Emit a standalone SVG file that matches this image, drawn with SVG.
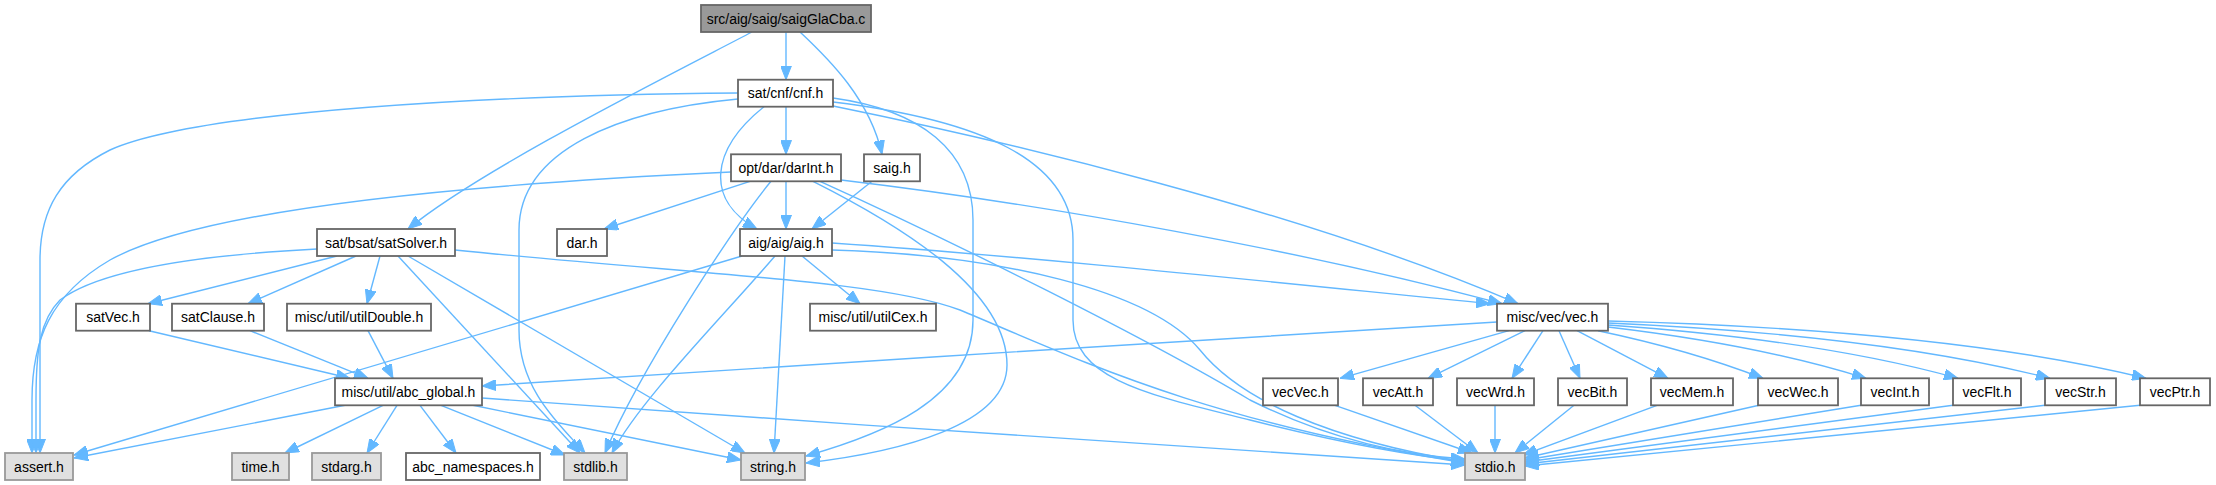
<svg xmlns="http://www.w3.org/2000/svg" width="2216" height="485" viewBox="0 0 2216 485">
<defs>
<style>
.n rect{fill:#ffffff;stroke:#666666;stroke-width:1.8}
.n.top rect{fill:#999999;stroke:#666666}
.n.sys rect{fill:#e0e0e0;stroke:#999999}
.n text{font-family:"Liberation Sans",Arial,sans-serif;font-size:14px;fill:#000000;text-anchor:middle}
#edges path{fill:none;stroke:#63b8ff;stroke-width:1.4;marker-end:url(#arr)}
</style>
<marker id="arr" markerUnits="userSpaceOnUse" viewBox="0 0 14 11" refX="14" refY="5.5" markerWidth="14" markerHeight="11" orient="auto">
<path d="M0,0 L14,5.5 L0,11 z" fill="#63b8ff" stroke="#63b8ff" stroke-width="1"/>
</marker>
</defs>
<rect width="2216" height="485" fill="#ffffff"/>
<g id="edges">
<path d="M752,32 C660,80 480,170 408,229"/>
<path d="M786,32 L786,79.7"/>
<path d="M800,32 C830,60 870,100 882,154.3"/>
<path d="M738,93 C500,95 200,110 110,150 C60,175 40,210 40,260 L40,453"/>
<path d="M738,99 C620,110 519,150 519,230 L519,330 C519,390 560,425 585,453"/>
<path d="M786,106.7 L786,154.3"/>
<path d="M764,106.7 C710,150 705,200 757,229"/>
<path d="M833,98 C920,110 973,150 973,220 L973,320 C973,400 880,435 806,456"/>
<path d="M833,102 C980,120 1073,160 1073,240 L1073,320 C1073,380 1150,395 1250,420 C1330,440 1400,455 1465,461"/>
<path d="M833,106 C1000,140 1300,210 1518,303.7"/>
<path d="M872,181.3 L812,229"/>
<path d="M731,172 C450,185 200,210 110,260 C50,295 32,340 32,400 L32,453"/>
<path d="M750,181.3 L604,229"/>
<path d="M786,181.3 L786,229"/>
<path d="M771,181.3 C735,225 640,370 605,453"/>
<path d="M813,181.3 C900,225 1007,290 1007,365 C1007,425 900,452 806,463"/>
<path d="M820,181.3 C950,240 1150,340 1250,400 C1330,440 1400,455 1465,459"/>
<path d="M841,180 C1050,205 1300,250 1502,303.7"/>
<path d="M317,249 C200,255 100,270 60,300 C40,320 36,350 36,400 L36,453"/>
<path d="M337,256 L148,303.7"/>
<path d="M356,256 L248,303.7"/>
<path d="M380,256 L367,303.7"/>
<path d="M398,256 L580,453"/>
<path d="M408,256 L745,453"/>
<path d="M455,250 C700,275 880,280 960,310 C1080,360 1200,420 1465,463"/>
<path d="M742,256 L74,455"/>
<path d="M775,256 C720,320 640,400 612,453"/>
<path d="M785,256 L774,453"/>
<path d="M802,256 L860,303.7"/>
<path d="M832,250 C1000,255 1150,290 1200,350 C1240,400 1330,440 1465,462"/>
<path d="M832,243 C1050,258 1300,285 1490,303.7"/>
<path d="M149,330.7 L350,378.3"/>
<path d="M250,330.7 L368,378.3"/>
<path d="M368,330.7 L393,378.3"/>
<path d="M1497,322 C1200,340 800,365 482,386"/>
<path d="M1509,330.7 L1340,378.3"/>
<path d="M1525,330.7 L1428,378.3"/>
<path d="M1543,330.7 L1512,378.3"/>
<path d="M1559,330.7 L1580,378.3"/>
<path d="M1577,330.7 L1668,378.3"/>
<path d="M1598,330.7 Q1690,350 1763,378.3"/>
<path d="M1608,327 Q1760,345 1866,378.3"/>
<path d="M1608,325 Q1820,340 1958,378.3"/>
<path d="M1608,323 Q1880,335 2050,378.3"/>
<path d="M1608,321 Q1950,330 2146,378.3"/>
<path d="M345,405.3 L74,458"/>
<path d="M383,405.3 L285,453"/>
<path d="M397,405.3 L367,453"/>
<path d="M420,405.3 L456,453"/>
<path d="M441,405.3 L565,455"/>
<path d="M473,405.3 L741,460"/>
<path d="M482,398 C800,420 1200,450 1465,465"/>
<path d="M1335,405.3 L1472,453"/>
<path d="M1415,405.3 L1478,453"/>
<path d="M1495,405.3 L1495,453"/>
<path d="M1574,405.3 L1515,453"/>
<path d="M1657,405.3 L1523,455"/>
<path d="M1759,405.3 L1525,458"/>
<path d="M1861,405.3 L1525,460"/>
<path d="M1953,405.3 L1525,462"/>
<path d="M2045,405.3 L1525,464"/>
<path d="M2140,405.3 L1525,466"/>
</g>
<g id="node_top" class="n top"><rect x="701" y="5" width="170" height="27"/><text x="786" y="23.5">src/aig/saig/saigGlaCba.c</text></g>
<g id="node_cnf" class="n"><rect x="738" y="79.7" width="95" height="27"/><text x="785.5" y="98.2">sat/cnf/cnf.h</text></g>
<g id="node_darInt" class="n"><rect x="731" y="154.3" width="110" height="27"/><text x="786" y="172.8">opt/dar/darInt.h</text></g>
<g id="node_saig" class="n"><rect x="864" y="154.3" width="56" height="27"/><text x="892" y="172.8">saig.h</text></g>
<g id="node_satSolver" class="n"><rect x="317" y="229" width="138" height="27"/><text x="386" y="247.5">sat/bsat/satSolver.h</text></g>
<g id="node_dar" class="n"><rect x="557" y="229" width="50" height="27"/><text x="582" y="247.5">dar.h</text></g>
<g id="node_aig" class="n"><rect x="740" y="229" width="92" height="27"/><text x="786" y="247.5">aig/aig/aig.h</text></g>
<g id="node_satVec" class="n"><rect x="76" y="303.7" width="74" height="27"/><text x="113" y="322.2">satVec.h</text></g>
<g id="node_satClause" class="n"><rect x="172" y="303.7" width="92" height="27"/><text x="218" y="322.2">satClause.h</text></g>
<g id="node_utilDouble" class="n"><rect x="287" y="303.7" width="144" height="27"/><text x="359" y="322.2">misc/util/utilDouble.h</text></g>
<g id="node_utilCex" class="n"><rect x="810" y="303.7" width="126" height="27"/><text x="873" y="322.2">misc/util/utilCex.h</text></g>
<g id="node_vec" class="n"><rect x="1497" y="303.7" width="111" height="27"/><text x="1552.5" y="322.2">misc/vec/vec.h</text></g>
<g id="node_abc_global" class="n"><rect x="335" y="378.3" width="147" height="27"/><text x="408.5" y="396.8">misc/util/abc_global.h</text></g>
<g id="node_vecVec" class="n"><rect x="1263" y="378.3" width="75" height="27"/><text x="1300.5" y="396.8">vecVec.h</text></g>
<g id="node_vecAtt" class="n"><rect x="1363" y="378.3" width="70" height="27"/><text x="1398" y="396.8">vecAtt.h</text></g>
<g id="node_vecWrd" class="n"><rect x="1457" y="378.3" width="77" height="27"/><text x="1495.5" y="396.8">vecWrd.h</text></g>
<g id="node_vecBit" class="n"><rect x="1558" y="378.3" width="69" height="27"/><text x="1592.5" y="396.8">vecBit.h</text></g>
<g id="node_vecMem" class="n"><rect x="1651" y="378.3" width="82" height="27"/><text x="1692" y="396.8">vecMem.h</text></g>
<g id="node_vecWec" class="n"><rect x="1758" y="378.3" width="80" height="27"/><text x="1798" y="396.8">vecWec.h</text></g>
<g id="node_vecInt" class="n"><rect x="1861" y="378.3" width="68" height="27"/><text x="1895" y="396.8">vecInt.h</text></g>
<g id="node_vecFlt" class="n"><rect x="1953" y="378.3" width="68" height="27"/><text x="1987" y="396.8">vecFlt.h</text></g>
<g id="node_vecStr" class="n"><rect x="2045" y="378.3" width="71" height="27"/><text x="2080.5" y="396.8">vecStr.h</text></g>
<g id="node_vecPtr" class="n"><rect x="2140" y="378.3" width="70" height="27"/><text x="2175" y="396.8">vecPtr.h</text></g>
<g id="node_assert" class="n sys"><rect x="5" y="453" width="68" height="27"/><text x="39" y="471.5">assert.h</text></g>
<g id="node_time" class="n sys"><rect x="232" y="453" width="57" height="27"/><text x="260.5" y="471.5">time.h</text></g>
<g id="node_stdarg" class="n sys"><rect x="312" y="453" width="69" height="27"/><text x="346.5" y="471.5">stdarg.h</text></g>
<g id="node_abc_namespaces" class="n"><rect x="406" y="453" width="134" height="27"/><text x="473" y="471.5">abc_namespaces.h</text></g>
<g id="node_stdlib" class="n sys"><rect x="564" y="453" width="63" height="27"/><text x="595.5" y="471.5">stdlib.h</text></g>
<g id="node_string" class="n sys"><rect x="741" y="453" width="64" height="27"/><text x="773" y="471.5">string.h</text></g>
<g id="node_stdio" class="n sys"><rect x="1465" y="453" width="60" height="27"/><text x="1495" y="471.5">stdio.h</text></g>
</svg>
